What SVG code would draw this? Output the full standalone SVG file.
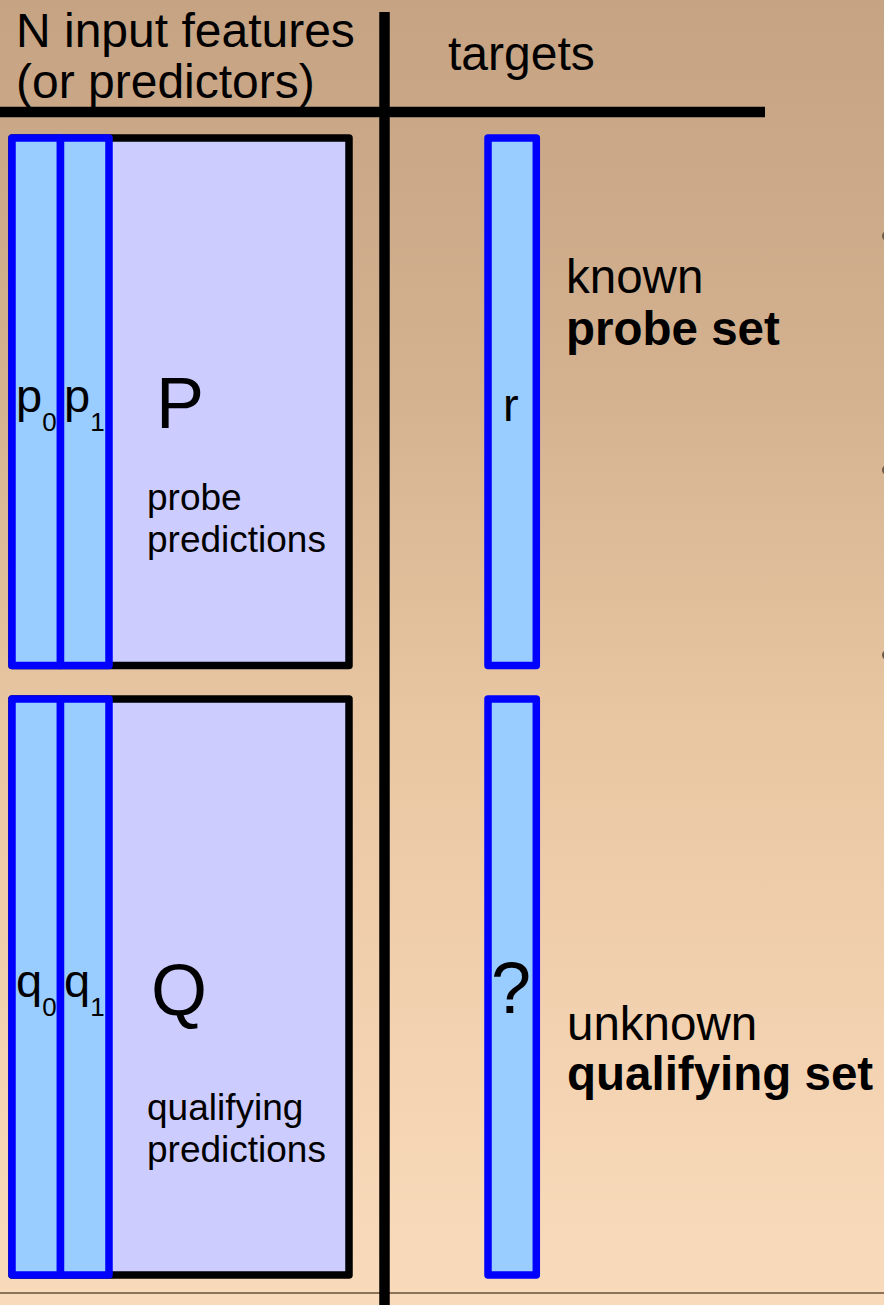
<svg xmlns="http://www.w3.org/2000/svg" width="884" height="1305" viewBox="0 0 884 1305">
  <defs>
    <linearGradient id="bg" x1="0" y1="0" x2="0" y2="1">
      <stop offset="0" stop-color="#c5a383"/>
      <stop offset="0.3" stop-color="#d4b290"/>
      <stop offset="0.55" stop-color="#e9c6a2"/>
      <stop offset="0.8" stop-color="#f3d2b1"/>
      <stop offset="1" stop-color="#f9dbbb"/>
    </linearGradient>
    <style>
      text { font-family: "Liberation Sans", Arial, sans-serif; fill: #000; }
      .hdr { font-size: 48px; }
      .side { font-size: 47.5px; }
      .bold { font-weight: bold; }
      .big { font-size: 72px; }
      .small { font-size: 37px; }
      .col { font-size: 47px; }
      .sub { font-size: 26px; }
      .matrix { fill: #ccccff; stroke: #000; stroke-width: 7.5; stroke-linejoin: round; }
      .vec { fill: #99ccff; stroke: #0000ff; stroke-width: 7.5; stroke-linejoin: round; }
      .rule { stroke: #000; stroke-width: 10.5; fill: none; }
    </style>
  </defs>

  <rect x="0" y="0" width="884" height="1305" fill="url(#bg)"/>
  <line x1="0" y1="1293" x2="884" y2="1293" stroke="#8a7358" stroke-width="2"/>

  <!-- bullet fragments at right edge -->
  <g fill="#6b5a48">
    <circle cx="887" cy="236" r="5"/>
    <circle cx="887" cy="470" r="5"/>
    <circle cx="887" cy="655" r="5"/>
  </g>

  <g id="connectors">
    <line class="rule" x1="384.5" y1="12" x2="384.5" y2="1305"/>
    <line class="rule" x1="0" y1="112" x2="765" y2="112"/>
  </g>

  <g id="header-features">
    <text class="hdr" x="16" y="47">N input features</text>
    <text class="hdr" x="16" y="98">(or predictors)</text>
  </g>
  <g id="header-targets">
    <text class="hdr" x="448" y="70">targets</text>
  </g>

  <g id="P">
    <rect class="matrix" x="12" y="138" width="337" height="527.5"/>
    <text class="big" x="156" y="428">P</text>
    <text class="small" x="147" y="510">probe</text>
    <text class="small" x="147" y="552">predictions</text>
  </g>
  <g id="p0">
    <rect class="vec" x="12" y="138" width="48.5" height="527.5"/>
    <text class="col" x="16" y="412">p<tspan class="sub" dy="19">0</tspan></text>
  </g>
  <g id="p1">
    <rect class="vec" x="60.5" y="138" width="48.5" height="527.5"/>
    <text class="col" x="64" y="412">p<tspan class="sub" dy="19">1</tspan></text>
  </g>

  <g id="Q">
    <rect class="matrix" x="12" y="699" width="337" height="576"/>
    <text class="big" x="151" y="1015">Q</text>
    <text class="small" x="147" y="1120">qualifying</text>
    <text class="small" x="147" y="1162">predictions</text>
  </g>
  <g id="q0">
    <rect class="vec" x="12" y="699" width="48.5" height="576"/>
    <text class="col" x="16" y="997">q<tspan class="sub" dy="18.5">0</tspan></text>
  </g>
  <g id="q1">
    <rect class="vec" x="60.5" y="699" width="48.5" height="576"/>
    <text class="col" x="64" y="997">q<tspan class="sub" dy="18.5">1</tspan></text>
  </g>

  <g id="r">
    <rect class="vec" x="488" y="138" width="48.3" height="527.5"/>
    <text class="col" x="503" y="421">r</text>
  </g>
  <g id="unknown-target">
    <rect class="vec" x="488" y="699" width="48.3" height="576"/>
    <text class="big" x="491" y="1013">?</text>
  </g>

  <g id="label-probe">
    <text class="side" x="566" y="293">known</text>
    <text class="side bold" x="566" y="345">probe set</text>
  </g>
  <g id="label-qualifying">
    <text class="side" x="567" y="1040">unknown</text>
    <text class="side bold" x="567" y="1090">qualifying set</text>
  </g>
</svg>
